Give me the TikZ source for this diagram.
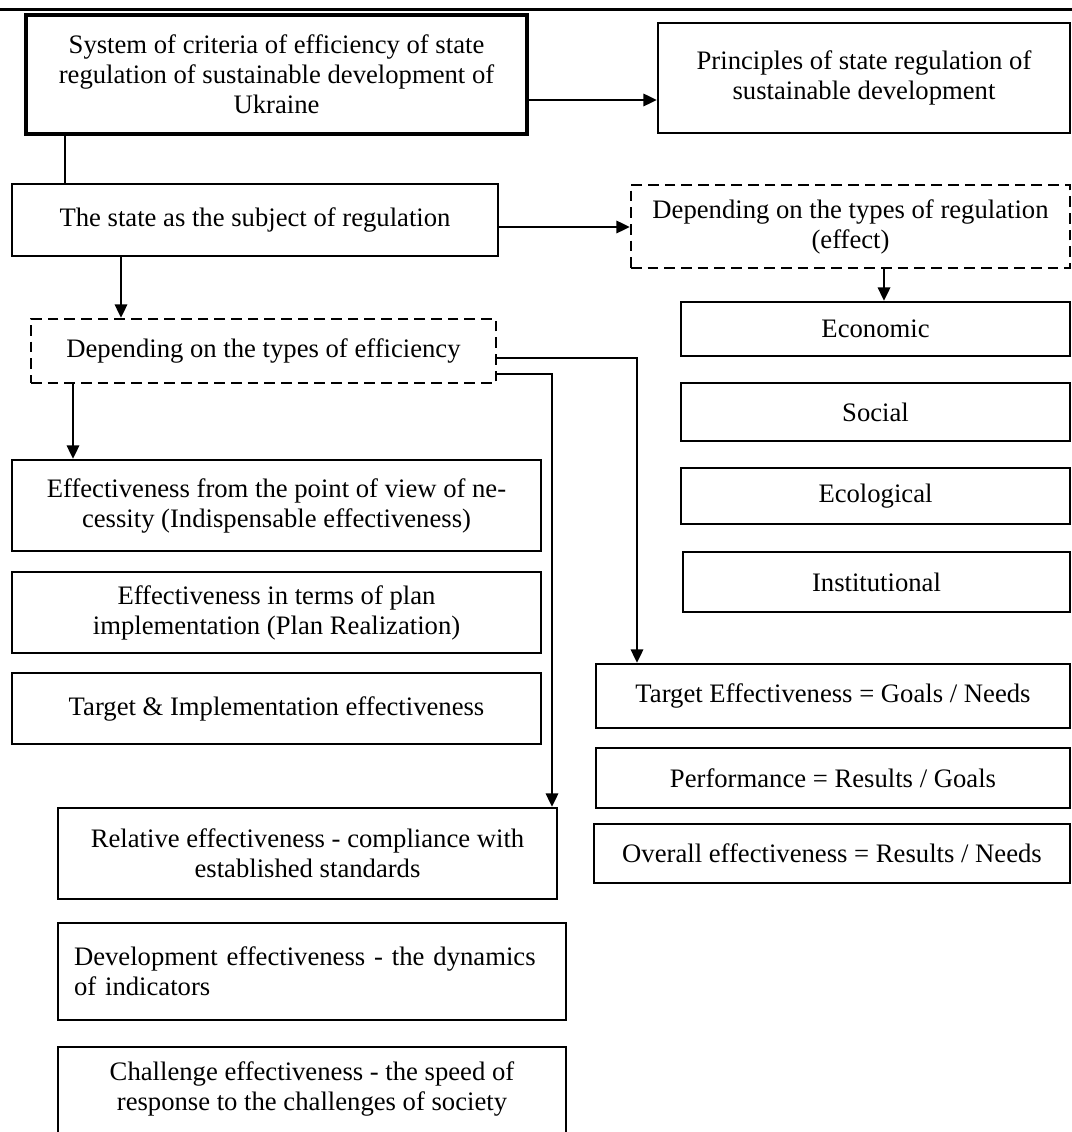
\documentclass[tikz,border=0pt]{standalone}
\usepackage{fontspec}
\setmainfont{Liberation Serif}
\usetikzlibrary{arrows.meta}
\newcommand\mkbox[7]{\node[#1, minimum width={(#5-#3)*0.45pt}, minimum height={(#6-#4)*0.45pt}] (#2) at ({(#3+#5)/2},{(#4+#6)/2}) {#7};}
\begin{document}
\begin{tikzpicture}[x=0.45pt,y=-0.45pt,
  txt/.style={inner sep=0pt, align=center, font=\fontsize{12pt}{13.5pt}\selectfont},
  box/.style={txt, draw, line width=1.1pt},
  thickbox/.style={box, line width=2pt},
  dbox/.style={box, dash pattern=on 4.8pt off 2.7pt},
  arr/.style={line width=0.85pt, -{Triangle[length=6pt,width=5.6pt]}},
  ln/.style={line width=0.85pt}]
\useasboundingbox (0,0) rectangle (1072,1132);
\clip (0,0) rectangle (1072,1132);
\draw[line width=1.35pt] (0,10) -- (1072,10);

\mkbox{thickbox}{b1}{26}{15}{527}{134}{System of criteria of efficiency of state\\regulation of sustainable development of\\Ukraine}
\mkbox{box}{b2}{658}{23}{1070}{133}{Principles of state regulation of\\sustainable development}
\mkbox{box}{b3}{12}{184}{498}{256}{The state as the subject of regulation}
\mkbox{dbox}{b4}{631}{185}{1070}{268}{Depending on the types of regulation\\(effect)}
\mkbox{box}{eco}{681}{302}{1070}{356}{Economic}
\mkbox{box}{soc}{681}{383}{1070}{441}{Social}
\mkbox{box}{ecol}{681}{468}{1070}{524}{Ecological}
\mkbox{box}{inst}{683}{552}{1070}{612}{Institutional}
\mkbox{dbox}{b5}{31}{319}{496}{383}{Depending on the types of efficiency}
\mkbox{box}{b6}{12}{460}{541}{551}{Effectiveness from the point of view of ne-\\cessity (Indispensable effectiveness)}
\mkbox{box}{b7}{12}{572}{541}{653}{Effectiveness in terms of plan\\implementation (Plan Realization)}
\mkbox{box}{b8}{12}{673}{541}{744}{Target \& Implementation effectiveness}
\mkbox{box}{tgt}{596}{664}{1070}{728}{Target Effectiveness = Goals / Needs}
\mkbox{box}{perf}{596}{748}{1070}{808}{Performance = Results / Goals}
\mkbox{box}{over}{594}{824}{1070}{883}{Overall effectiveness = Results / Needs}
\mkbox{box}{rel}{58}{808}{557}{899}{Relative effectiveness - compliance with\\established standards}
\mkbox{box, text width={(566-58-32)*0.45pt}, align=left}{dev}{58}{923}{566}{1020}{Development effectiveness - the dynamics\\of indicators}
\mkbox{box}{chal}{58}{1047}{566}{1200}{}
\node[txt] (chalt) at (312,1089) {Challenge effectiveness - the speed of\\response to the challenges of society};

\draw[ln] (b1.south -| 65,0) -- (b3.north -| 65,0);
\draw[arr] (b1.east |- 0,100) -- (b2.west |- 0,100);
\draw[arr] (b3.east |- 0,227) -- (b4.west |- 0,227);
\draw[arr] (b4.south -| 884,0) -- (eco.north -| 884,0);
\draw[arr] (b3.south -| 121,0) -- (b5.north -| 121,0);
\draw[arr] (b5.south -| 73,0) -- (b6.north -| 73,0);
\draw[arr] (b5.east |- 0,358) -| (tgt.north -| 637,0);
\draw[arr] (b5.east |- 0,374) -| (rel.north -| 552,0);
\end{tikzpicture}
\end{document}
